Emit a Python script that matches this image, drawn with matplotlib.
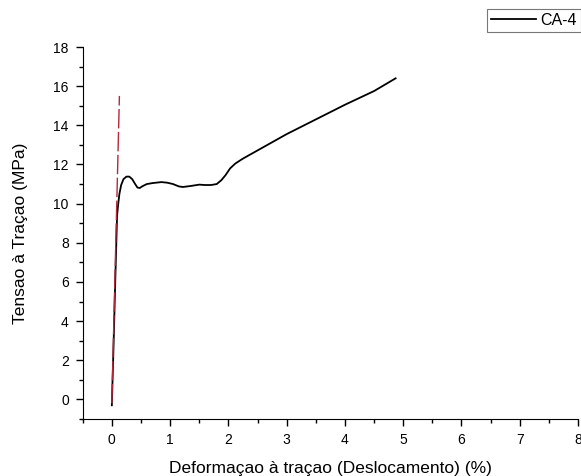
import matplotlib
matplotlib.use('Agg')
import matplotlib.pyplot as plt
from matplotlib.ticker import MultipleLocator

plt.rcParams['font.family'] = ['Liberation Sans', 'DejaVu Sans']

# CA-4 tensile curve: strain (%) vs stress (MPa)
strain = [0.0, 0.03, 0.06, 0.09, 0.11, 0.13, 0.16, 0.2, 0.25, 0.3, 0.35, 0.4,
          0.44, 0.48, 0.52, 0.6, 0.7, 0.85, 0.95, 1.05, 1.15, 1.22, 1.35, 1.5,
          1.6, 1.7, 1.8, 1.88, 1.95, 2.03, 2.12, 2.25, 2.4, 2.55, 3.0, 3.5,
          4.0, 4.5, 4.87]
stress = [-0.3, 2.8, 6.2, 9.4, 10.0, 10.5, 10.95, 11.25, 11.38, 11.38, 11.25,
          11.0, 10.82, 10.8, 10.88, 11.0, 11.05, 11.1, 11.07, 11.0, 10.88, 10.85,
          10.9, 10.97, 10.95, 10.95, 11.0, 11.2, 11.45, 11.8, 12.05, 12.3, 12.55,
          12.8, 13.55, 14.3, 15.05, 15.75, 16.4]

# elastic modulus fit line
fit_strain = [0.0, 0.13]
fit_stress = [-0.2, 15.5]

fig = plt.figure(figsize=(5.81, 4.76), dpi=100)
ax = fig.add_axes([82.7 / 581, 57 / 476, (578 - 82.7) / 581, (419 - 47) / 476])

line, = ax.plot(strain, stress, color='black', lw=1.3)
ax.plot(fit_strain, fit_stress, color='#b4283c', lw=1.0, dashes=(14, 2.5), zorder=3)

ax.set_xlim(-0.5, 8)
ax.set_ylim(-1, 18)
ax.xaxis.set_major_locator(MultipleLocator(1))
ax.xaxis.set_minor_locator(MultipleLocator(0.5))
ax.yaxis.set_major_locator(MultipleLocator(2))
ax.yaxis.set_minor_locator(MultipleLocator(1))
ax.tick_params(which='major', direction='out', length=5, width=1, labelsize=10, pad=5)
ax.tick_params(which='minor', direction='out', length=3, width=1)
for s in ['top', 'right']:
    ax.spines[s].set_visible(False)

ax.set_xlabel('Deformaçao à traçao (Deslocamento) (%)', fontsize=12.5, labelpad=10)
ax.set_ylabel('Tensao à Traçao (MPa)', fontsize=12.5, labelpad=18)

leg = fig.legend([line], ['CA-4'], loc='upper left', bbox_to_anchor=(487 / 581, 1 - 9 / 476),
                 fontsize=11.5, frameon=True, fancybox=False, handlelength=2.8,
                 handletextpad=0.3, borderpad=0.25, borderaxespad=0)
leg.get_frame().set_edgecolor('#555555')
leg.get_frame().set_linewidth(0.8)

fig.savefig('out.png', dpi=100)
